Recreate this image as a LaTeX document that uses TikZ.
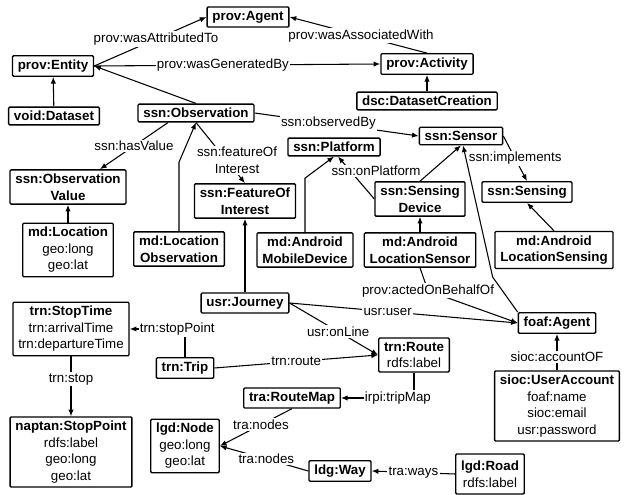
\documentclass[tikz,border=0pt]{standalone}
\usepackage{fontspec}
\setmainfont{Liberation Sans}
\usetikzlibrary{arrows.meta}

\begin{document}
\begin{tikzpicture}[
    x=0.75pt, y=-0.75pt,
    line width=0.8pt,
    font=\fontsize{10}{12.4}\selectfont,
    cls/.style={draw, rounded corners=0.8pt, line width=1pt, fill=white, align=center, inner xsep=4pt, inner ysep=3pt},
    lbl/.style={fill=white, inner sep=1pt, align=center},
    arr/.style={-{Latex[length=5pt,width=4pt]}}
    ]
	\useasboundingbox (0,0) rectangle (624,495);
	% classes
	\node [cls] (agent) at (248,17) {\textbf{prov:Agent}};
	\node [cls] (entity) at (53,66) {\textbf{prov:Entity}};
	\node [cls] (dataset) at (54,116) {\textbf{void:Dataset}};
	\node [cls] (activity) at (427,64) {\textbf{prov:Activity}};
	\node [cls] (dsc) at (427,101) {\textbf{dsc:DatasetCreation}};
	\node [cls] (obs) at (196,113) {\textbf{ssn:Observation}};
	\node [cls] (sensor) at (461,136) {\textbf{ssn:Sensor}};
	\node [cls] (platform) at (334,147) {\textbf{ssn:Platform}};
	\node [cls] (ov) at (68,187) {\textbf{ssn:Observation}\\\textbf{Value}};
	\node [cls] (mdloc) at (68,250) {\textbf{md:Location}\\geo:long\\geo:lat};
	\node [cls] (locobs) at (179,249) {\textbf{md:Location}\\\textbf{Observation}};
	\node [cls] (foi) at (245,201) {\textbf{ssn:FeatureOf}\\\textbf{Interest}};
	\node [cls] (amd) at (305,250) {\textbf{md:Android}\\\textbf{MobileDevice}};
	\node [cls] (sd) at (420,199) {\textbf{ssn:Sensing}\\\textbf{Device}};
	\node [cls] (alsensor) at (420,250) {\textbf{md:Android}\\\textbf{LocationSensor}};
	\node [cls] (sensing) at (527,192) {\textbf{ssn:Sensing}};
	\node [cls] (alsensing) at (554,250) {\textbf{md:Android}\\\textbf{LocationSensing}};
	\node [cls] (journey) at (245,303) {\textbf{usr:Journey}};
	\node [cls] (foaf) at (557,323) {\textbf{foaf:Agent}};
	\node [cls] (stoptime) at (71,329) {\textbf{trn:StopTime}\\trn:arrivalTime\\trn:departureTime};
	\node [cls] (trip) at (185,368) {\textbf{trn:Trip}};
	\node [cls] (route) at (414,355) {\textbf{trn:Route}\\rdfs:label};
	\node [cls] (ua) at (557,406) {\textbf{sioc:UserAccount}\\foaf:name\\sioc:email\\usr:password};
	\node [cls] (stoppoint) at (71,452) {\textbf{naptan:StopPoint}\\rdfs:label\\geo:long\\geo:lat};
	\node [cls] (routemap) at (292,398) {\textbf{tra:RouteMap}};
	\node [cls] (lgdnode) at (185,446) {\textbf{lgd:Node}\\geo:long\\geo:lat};
	\node [cls] (way) at (340,471) {\textbf{ldg:Way}};
	\node [cls, minimum height=30pt] (road) at (490,474) {\textbf{lgd:Road}\\rdfs:label};
	% properties
	\draw [arr] (entity.east) -- node[lbl, pos=0.55]{prov:wasAttributedTo} (agent.west);
	\draw [arr] (activity.north) -- node[lbl, pos=0.48]{prov:wasAssociatedWith} (agent.east);
	\draw [arr] (entity.east) -- node[lbl, pos=0.45]{prov:wasGeneratedBy} (activity.west);
	\draw [arr] (dataset) -- (entity);
	\draw [arr] (dsc) -- (activity);
	\draw [arr] (obs.north) -- (entity.east);
	\draw [arr] (obs.east) -- node[lbl, pos=0.45]{ssn:observedBy} (sensor.west);
	\draw [arr] ([xshift=-21pt]obs.south) -- node[lbl]{ssn:hasValue} ([xshift=24pt]ov.north);
	\draw [arr] (obs.south) -- node[lbl, pos=0.62, xshift=8pt]{ssn:featureOf\\Interest} (foi.north);
	\draw [arr] (locobs.north) -- ++(0,-69) -- (obs.south);
	\draw [arr] (mdloc) -- (ov);
	\draw [arr] (journey) -- (foi);
	\draw [arr] (amd.north) -- ++(0,-54) -- (platform.south);
	\draw [arr] (sd.west) -- ([xshift=3pt]platform.south);
	\node [lbl] (onplat) at (376,171) {ssn:onPlatform};
	\draw [arr] (alsensor) -- (sd);
	\draw [arr] (sd.north) -- (sensor.south);
	\draw [arr] (sensor.east) -- node[lbl]{ssn:implements} (sensing.north);
	\draw [arr] (alsensing.north) -- (sensing.south);
	\draw [arr] (alsensor.south) -- ++(8,23) node[lbl]{prov:actedOnBehalfOf} -- (foaf.west);
	\draw [arr] (foaf.north west) -- ++(-25,-35) -- ([xshift=1.5pt]sensor.south);
	\draw [arr] (journey.east) -- node[lbl, pos=0.43]{usr:user} (foaf.west);
	\draw [arr] (journey.east) -- node[lbl, pos=0.55]{usr:onLine} (route.west);
	\draw [arr] (trip.east) -- node[lbl]{trn:route} (route.west);
	\draw [arr] (trip.north) |- node[lbl, pos=0.57]{trn:stopPoint} (stoptime.east);
	\draw [arr] (stoptime) -- node[lbl, pos=0.38]{trn:stop} (stoppoint);
	\draw [arr] (ua) -- node[lbl, pos=0.37]{sioc:accountOF} (foaf);
	\draw [arr] (route.south) |- node[lbl, pos=0.61]{irpi:tripMap} (routemap.east);
	\draw [arr] (routemap.south) -- node[lbl, pos=0.43]{tra:nodes} (lgdnode.east);
	\draw [arr] (way.west) -- ++(-42,-12) node[lbl]{tra:nodes} -- (lgdnode.east);
	\draw [arr] (road.west) -- node[lbl]{tra:ways} (way.east);
\end{tikzpicture}
\end{document}
